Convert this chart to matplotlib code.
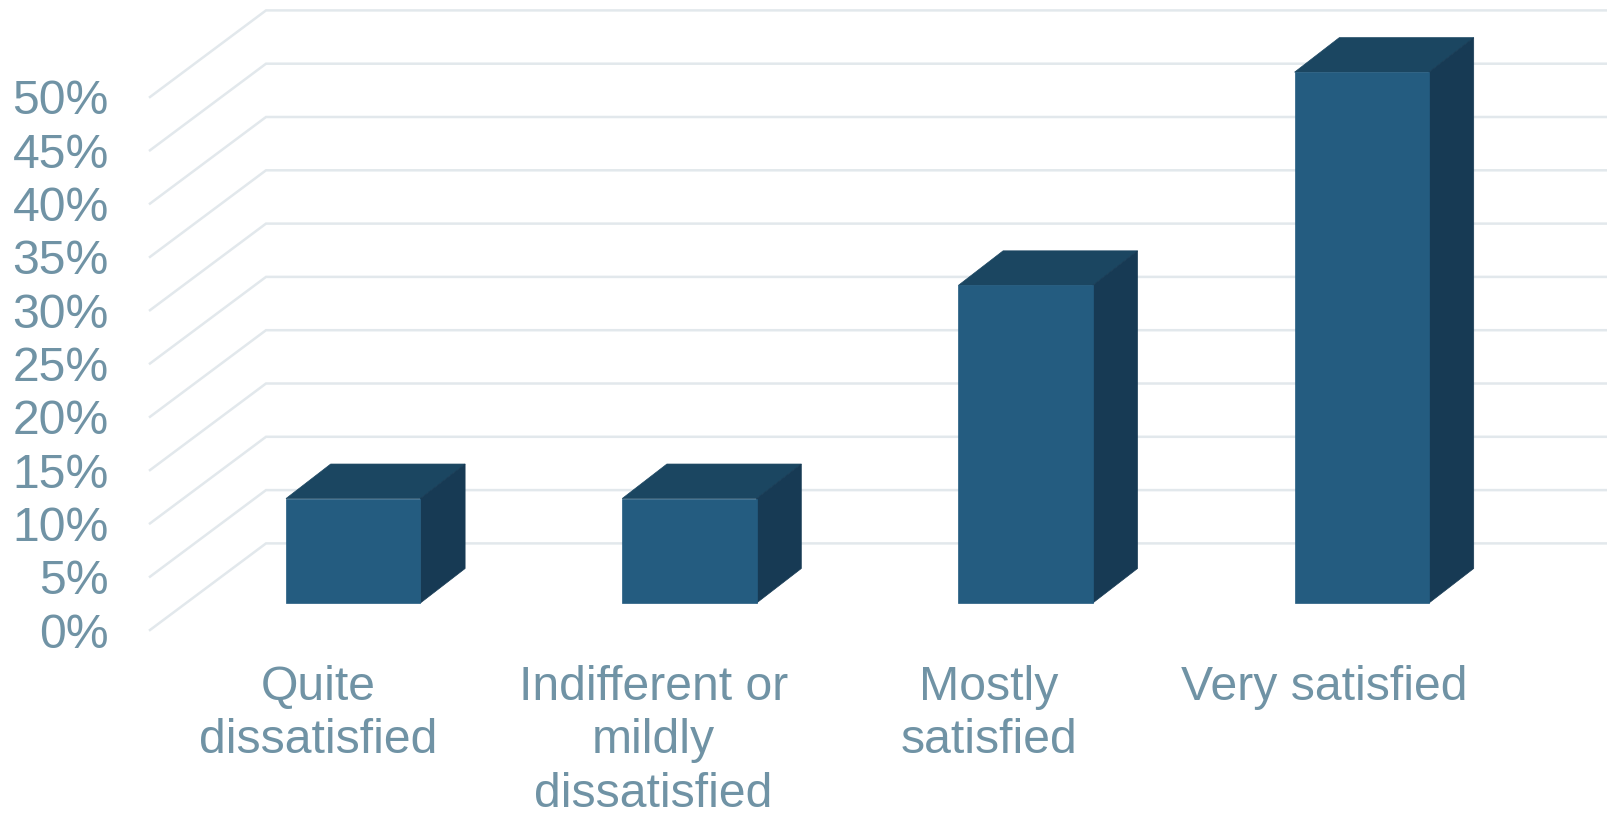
import matplotlib
matplotlib.use("Agg")
import matplotlib.pyplot as plt
from matplotlib.patches import Polygon

categories = ["Quite\ndissatisfied", "Indifferent or\nmildly\ndissatisfied", "Mostly\nsatisfied", "Very satisfied"]
values = [9.8, 9.8, 29.8, 49.8]
ticks = [0, 5, 10, 15, 20, 25, 30, 35, 40, 45, 50]
tick_labels = [f"{t}%" for t in ticks]

W, H = 1608, 815
plt.rcParams['font.family'] = ['Liberation Sans', 'DejaVu Sans']
fig = plt.figure(figsize=(W / 100, H / 100), dpi=100, facecolor='white')
ax = fig.add_axes([0, 0, 1, 1])
ax.axis('off')

# x: category index, y: percent on the bars' front plane
PX_X = 336.2          # pixels per category
X0 = 353.2            # pixel centre of first bar
PX_Y = 10.66          # pixels per percent
Y0 = 603.0            # pixel row of 0% on the bars' front plane
ax.set_xlim(-X0 / PX_X, (W - X0) / PX_X)
ax.set_ylim((Y0 - H) / PX_Y, Y0 / PX_Y)

dx = lambda px: px / PX_X
dy = lambda px: px / PX_Y

GRID = '#E2E8EC'
TXT = '#7093A5'
FRONT, TOP, SIDE = '#245C80', '#1B4661', '#173A54'

half = dx(67.2)
dep_x, dep_y = dx(44.7), dy(34.5)

# gridlines: wall + floor diagonal, from the bars' plane offsets
x_front, x_back, x_end = dx(150 - X0), dx(266 - X0), dx(W - X0)
for t, lab in zip(ticks, tick_labels):
    y_front = t - dy(27)
    y_back = t + dy(59.6)
    ax.plot([x_front, x_back, x_end], [y_front, y_back, y_back],
            color=GRID, lw=1.8, solid_joinstyle='miter', zorder=1)
    ax.text(dx(109 - X0), y_front, lab, ha='right', va='center_baseline',
            fontsize=34.7, color=TXT)

for i, v in enumerate(values):
    l, r = i - half, i + half
    ax.add_patch(Polygon([(l, v), (r, v), (r + dep_x, v + dep_y), (l + dep_x, v + dep_y)],
                         closed=True, fc=TOP, ec=TOP, lw=0.5, zorder=3))
    ax.add_patch(Polygon([(r, 0), (r + dep_x, dep_y), (r + dep_x, v + dep_y), (r, v)],
                         closed=True, fc=SIDE, ec=SIDE, lw=0.5, zorder=3))
    ax.add_patch(Polygon([(l, 0), (r, 0), (r, v), (l, v)], closed=True,
                         fc=FRONT, ec=FRONT, lw=0.5, zorder=4))

for i, c in enumerate(categories):
    ax.text(i + dx(-35.2 - 0.8 * i), dy(Y0 - 665), c, ha='center', va='top', fontsize=34.7,
            color=TXT, linespacing=1.24, multialignment='center')

fig.savefig("out.png", dpi=100, facecolor='white')
